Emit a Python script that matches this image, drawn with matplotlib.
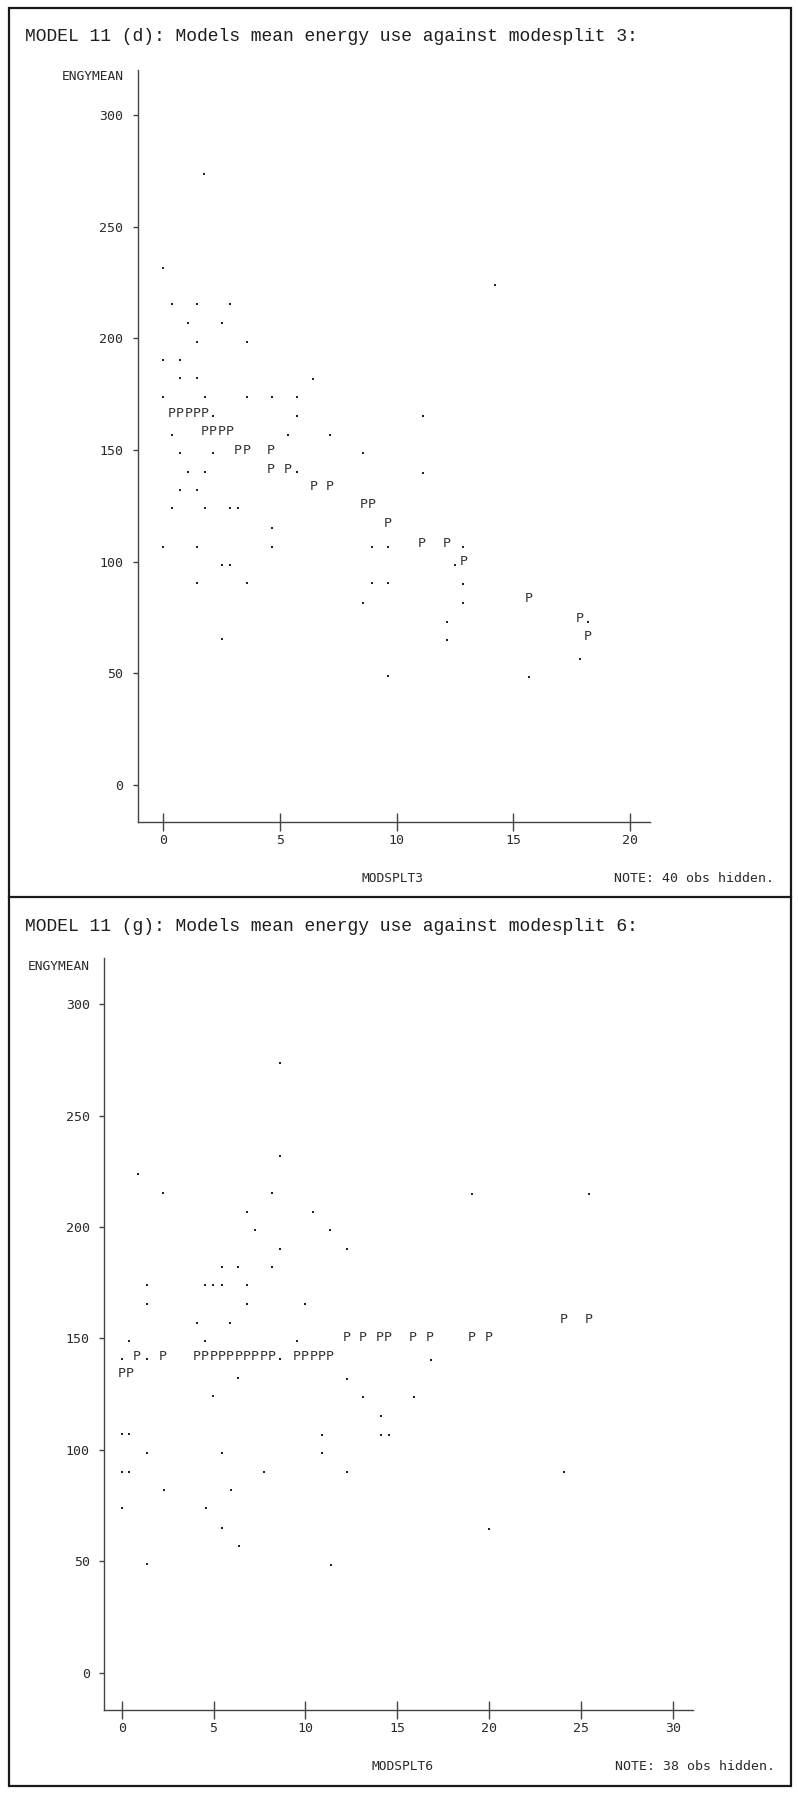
import matplotlib
matplotlib.use('Agg')
import matplotlib.pyplot as plt
from matplotlib.patches import Rectangle
from matplotlib.lines import Line2D

W, H = 798, 1798

# MODEL 11 (d): observed ENGYMEAN vs MODSPLT3
obs3_x = [1.76, 0.0, 0.36, 1.43, 2.86, 1.07, 2.50, 1.43, 3.57, 0.0, 0.72,
          0.72, 1.43, 6.43, 0.0, 1.79, 3.57, 4.64, 5.72, 2.14, 5.72, 11.12,
          0.36, 5.36, 7.14, 0.72, 2.14, 8.57, 1.07, 1.79, 5.72, 11.12,
          0.72, 1.43, 0.36, 1.79, 2.86, 3.21, 4.64,
          0.0, 1.43, 4.64, 8.93, 9.64, 12.86, 2.50, 2.86, 12.50,
          1.43, 3.57, 8.93, 9.64, 12.86, 8.57, 12.86, 12.15, 18.20,
          2.50, 12.15, 17.86, 9.64, 15.67, 14.20]
obs3_y = [273.5, 231.7, 215.3, 215.3, 215.3, 207.0, 207.0, 198.5, 198.5, 190.3, 190.3,
          182.1, 182.1, 181.8, 173.9, 173.9, 173.9, 173.9, 173.9, 165.2, 165.2, 165.2,
          156.7, 156.7, 156.7, 148.5, 148.5, 148.5, 140.3, 140.3, 140.3, 139.9,
          132.1, 132.1, 123.9, 123.9, 123.9, 123.9, 115.0,
          106.7, 106.7, 106.7, 106.7, 106.7, 106.7, 98.5, 98.5, 98.5,
          90.3, 90.3, 90.3, 90.3, 90.0, 81.6, 81.6, 73.1, 73.1,
          65.2, 64.9, 56.3, 48.8, 48.5, 223.7]
# predicted values (P)
pred3_x = [0.36, 0.72, 1.07, 1.43, 1.79, 1.79, 2.14, 2.50, 2.86,
           3.21, 3.57, 4.62, 4.62, 5.33, 6.43, 7.14, 8.57, 8.93, 9.64,
           11.07, 12.15, 12.86, 15.67, 17.86, 18.19]
pred3_y = [166.4, 166.4, 166.4, 166.4, 166.4, 158.2, 158.2, 158.2, 158.2,
           150.0, 150.0, 150.0, 141.3, 141.3, 133.6, 133.6, 125.4, 125.4, 117.2,
           108.2, 108.2, 100.0, 83.3, 74.6, 66.4]

# MODEL 11 (g): observed ENGYMEAN vs MODSPLT6
obs6_x = [8.62, 8.62, 0.90, 2.26, 8.17, 19.05, 25.45, 6.80, 10.43, 7.26, 11.34,
          8.62, 12.25, 5.44, 6.35, 8.17, 1.36, 4.53, 4.99, 5.44, 6.80,
          1.36, 6.80, 9.98, 4.08, 5.90, 0.41, 4.53, 9.53,
          0.0, 1.36, 8.62, 16.84, 6.35, 12.25, 4.99, 13.15, 15.91, 14.12,
          0.0, 0.41, 10.92, 14.12, 14.57, 1.40, 5.48, 10.92,
          0.0, 0.41, 7.75, 12.28, 24.08, 2.30, 5.93, 0.0, 4.57,
          5.48, 20.01, 6.39, 1.40, 11.38]
obs6_y = [273.7, 231.8, 223.8, 215.4, 215.4, 214.8, 214.8, 206.9, 206.9, 198.7, 198.7,
          190.1, 190.1, 182.2, 182.2, 182.2, 174.0, 174.0, 174.0, 174.0, 174.0,
          165.5, 165.5, 165.5, 157.1, 157.1, 149.0, 149.0, 149.0,
          140.6, 140.6, 140.6, 140.4, 132.1, 131.7, 124.0, 123.9, 123.6, 115.2,
          107.2, 107.2, 106.7, 106.7, 106.7, 98.8, 98.8, 98.8,
          90.3, 90.3, 90.3, 90.3, 90.3, 81.9, 81.9, 73.9, 73.9,
          65.2, 64.6, 56.8, 48.9, 48.4]
pred6_x = [12.25, 13.15, 14.06, 14.51, 15.87, 16.78, 19.05, 19.96,
           24.04, 25.45,
           0.82, 2.26, 4.08, 4.53, 4.99, 5.44, 5.90, 6.35, 6.80, 7.26, 7.71, 8.17,
           9.53, 9.98, 10.43, 10.89, 11.34,
           0.0, 0.45]
pred6_y = [150.3] * 8 + [158.3] * 2 + [141.8] * 17 + [134.1] * 2

yticks = [0, 50, 100, 150, 200, 250, 300]
xticks3 = [0, 5, 10, 15, 20]
xticks6 = [0, 5, 10, 15, 20, 25, 30]

MONO = 'DejaVu Sans Mono'
INK = '#2a2a2a'


def fx(px):
    return px / W


def fy(py):
    return 1 - py / H


def scatter_panel(ax, ox, oy, px, py, xticks, xlim, ylim):
    ax.set_xlim(*xlim)
    ax.set_ylim(*ylim)
    for s in ['top', 'right']:
        ax.spines[s].set_visible(False)
    for s in ['left', 'bottom']:
        ax.spines[s].set_color('#444444')
        ax.spines[s].set_linewidth(1.0)
    ax.set_xticks(xticks)
    ax.set_yticks(yticks)
    ax.tick_params(axis='x', direction='inout', length=13, width=1,
                   color='#444444', pad=2, labelsize=9.5, labelcolor=INK)
    ax.tick_params(axis='y', direction='out', length=3.5, width=1,
                   color='#444444', pad=7, labelsize=9.5, labelcolor=INK)
    for lab in ax.get_xticklabels() + ax.get_yticklabels():
        lab.set_family(MONO)
    ax.patch.set_alpha(0)
    # observations drawn as dots
    ax.scatter(ox, oy, marker='s', s=2.6, color='#222222', linewidths=0)
    # predicted values drawn as the letter P
    for x, y in zip(px, py):
        ax.text(x, y, 'P', ha='center', va='center', family=MONO,
                fontsize=9.5, color='#333333')


fig = plt.figure(figsize=(W / 100, H / 100), dpi=100)

# outer frame and divider between the two plots
fig.add_artist(Rectangle((fx(9), fy(1786)), fx(791) - fx(9), fy(8) - fy(1786),
                         transform=fig.transFigure, fill=False,
                         edgecolor='#1a1a1a', linewidth=1.6))
fig.add_artist(Line2D([fx(9), fx(791)], [fy(897), fy(897)],
                      transform=fig.transFigure, color='#1a1a1a', linewidth=1.6))

# upper plot
ax1 = fig.add_axes([fx(137.7), fy(822.3), fx(650) - fx(137.7), fy(70) - fy(822.3)])
scatter_panel(ax1, obs3_x, obs3_y, pred3_x, pred3_y, xticks3,
              (-1.097, 20.86), (-16.7, 320.2))
fig.text(fx(25), fy(36.7), 'MODEL 11 (d): Models mean energy use against modesplit 3:',
         ha='left', va='center', family='Liberation Mono', fontsize=13, color='#1e1e1e')
fig.text(fx(124), fy(77), 'ENGYMEAN', ha='right', va='center', family=MONO,
         fontsize=9.3, color=INK)
fig.text(fx(393), fy(878.7), 'MODSPLT3', ha='center', va='center', family=MONO,
         fontsize=9.3, color=INK)
fig.text(fx(774), fy(879), 'NOTE: 40 obs hidden.', ha='right', va='center', family=MONO,
         fontsize=9.5, color=INK)

# lower plot
ax2 = fig.add_axes([fx(104.3), fy(1710), fx(693.3) - fx(104.3), fy(958.3) - fy(1710)])
scatter_panel(ax2, obs6_x, obs6_y, pred6_x, pred6_y, xticks6,
              (-0.947, 31.12), (-16.6, 320.5))
fig.text(fx(25), fy(926.7), 'MODEL 11 (g): Models mean energy use against modesplit 6:',
         ha='left', va='center', family='Liberation Mono', fontsize=13, color='#1e1e1e')
fig.text(fx(90), fy(966), 'ENGYMEAN', ha='right', va='center', family=MONO,
         fontsize=9.3, color=INK)
fig.text(fx(402), fy(1766), 'MODSPLT6', ha='center', va='center', family=MONO,
         fontsize=9.3, color=INK)
fig.text(fx(775), fy(1766.7), 'NOTE: 38 obs hidden.', ha='right', va='center', family=MONO,
         fontsize=9.5, color=INK)

fig.savefig('out.png', dpi=100, facecolor='white')
